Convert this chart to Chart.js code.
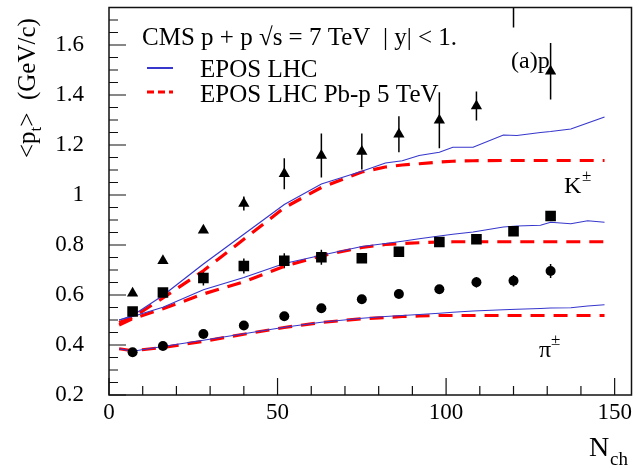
<!DOCTYPE html>
<html>
<head>
<meta charset="utf-8">
<script src="https://cdn.jsdelivr.net/npm/chart.js@4.4.1/dist/chart.umd.min.js"></script>
<style>
  html, body { margin: 0; padding: 0; background: #fff; }
</style>
</head>
<body>
<canvas id="ptChart" width="639" height="468"></canvas>
<script>
// measured points (CMS pp 7 TeV)
const nch = [7, 16, 28, 40, 52, 63, 75, 86, 98, 109, 120, 131];
const protonPt  = [0.607, 0.737, 0.859, 0.966, 1.085, 1.158, 1.174, 1.243, 1.299, 1.356, 1.78, 1.495];
const protonErr = [0.005, 0.008, 0.01, 0.028, 0.062, 0.088, 0.072, 0.072, 0.112, 0.058, 0.11, 0.113];
const kaonPt  = [0.534, 0.610, 0.668, 0.716, 0.737, 0.751, 0.747, 0.773, 0.812, 0.823, 0.855, 0.916];
const kaonErr = [0.005, 0.005, 0.03, 0.03, 0.03, 0.03, 0.005, 0.005, 0.005, 0.005, 0.005, 0.005];
const pionPt  = [0.371, 0.396, 0.444, 0.478, 0.515, 0.547, 0.583, 0.604, 0.623, 0.651, 0.657, 0.696];
const pionErr = [0.004, 0.004, 0.005, 0.005, 0.005, 0.005, 0.005, 0.005, 0.008, 0.021, 0.023, 0.028];

// EPOS curves
const modelN = [3, 7, 16, 28, 40, 52, 63, 75, 82, 87, 92, 98, 102, 108, 117, 121, 128, 131, 137, 142, 147];
const eposProton = [0.50, 0.518, 0.598, 0.724, 0.843, 0.962, 1.044, 1.095, 1.128, 1.137, 1.158, 1.171, 1.191, 1.191, 1.240, 1.238, 1.250, 1.254, 1.264, 1.288, 1.312];
const eposKaon   = [0.50, 0.514, 0.551, 0.621, 0.670, 0.726, 0.759, 0.794, 0.806, 0.815, 0.825, 0.836, 0.843, 0.852, 0.872, 0.876, 0.879, 0.891, 0.885, 0.897, 0.891];
const eposPion   = [0.385, 0.375, 0.394, 0.419, 0.445, 0.471, 0.491, 0.507, 0.514, 0.518, 0.522, 0.527, 0.531, 0.536, 0.541, 0.543, 0.546, 0.548, 0.549, 0.556, 0.561];
const pbProton = [0.49, 0.51, 0.588, 0.697, 0.823, 0.949, 1.03, 1.092, 1.112, 1.12, 1.125, 1.132, 1.135, 1.137, 1.138, 1.138, 1.138, 1.138, 1.138, 1.138, 1.138];
const pbKaon   = [0.48, 0.505, 0.545, 0.604, 0.653, 0.715, 0.757, 0.790, 0.802, 0.806, 0.809, 0.812, 0.813, 0.813, 0.813, 0.813, 0.813, 0.813, 0.813, 0.813, 0.813];
const pbPion   = [0.385, 0.377, 0.39, 0.415, 0.443, 0.47, 0.49, 0.505, 0.51, 0.514, 0.516, 0.518, 0.518, 0.518, 0.518, 0.518, 0.518, 0.518, 0.518, 0.518, 0.518];

const serif = "'Liberation Serif', 'DejaVu Serif', serif";
const blue = 'rgb(55,55,205)';
const red = 'rgb(255,0,0)';

function pts(xs, ys) {
  return xs.map((x, i) => ({ x: x, y: ys[i] }));
}

function model(data, dashed) {
  return {
    data: pts(modelN, data),
    borderColor: dashed ? red : blue,
    borderWidth: dashed ? 3.2 : 1.2,
    borderDash: dashed ? [14, 9] : [],
    pointRadius: 0,
    tension: 0,
    fill: false,
    order: 2
  };
}

function marker(data, errs, style, radius) {
  return {
    data: pts(nch, data),
    errs: errs,
    showLine: false,
    pointStyle: style,
    pointRadius: radius,
    pointBackgroundColor: '#000',
    pointBorderColor: '#000',
    pointBorderWidth: 0,
    clip: 0,
    order: 1
  };
}

// error bars, frame, inner ticks and the texts
const decorations = {
  id: 'decorations',
  beforeDatasetsDraw(chart) {
    const ctx = chart.ctx;
    const a = chart.chartArea;
    const xs = chart.scales.x, ys = chart.scales.y;
    ctx.save();
    ctx.beginPath();
    ctx.rect(a.left, a.top, a.right - a.left, a.bottom - a.top);
    ctx.clip();
    ctx.strokeStyle = '#000';
    ctx.lineWidth = 1.5;
    chart.data.datasets.forEach(ds => {
      if (!ds.errs) return;
      ds.data.forEach((p, i) => {
        const px = xs.getPixelForValue(p.x);
        ctx.beginPath();
        ctx.moveTo(px, ys.getPixelForValue(p.y - ds.errs[i]));
        ctx.lineTo(px, ys.getPixelForValue(p.y + ds.errs[i]));
        ctx.stroke();
      });
    });
    ctx.restore();
  },
  afterDraw(chart) {
    const ctx = chart.ctx;
    const a = chart.chartArea;
    const xs = chart.scales.x, ys = chart.scales.y;
    ctx.save();
    ctx.strokeStyle = '#111';
    ctx.lineWidth = 1.5;
    ctx.strokeRect(a.left, a.top, a.right - a.left, a.bottom - a.top);

    ctx.lineWidth = 1.2;
    ctx.beginPath();
    for (let v = 0; v <= 155; v += 10) {
      const px = xs.getPixelForValue(v);
      const len = v % 50 === 0 ? 17 : 9;
      ctx.moveTo(px, a.bottom);
      ctx.lineTo(px, a.bottom - len);
    }
    for (let k = 4; k <= 35; k++) {
      const v = k * 0.05;
      const py = ys.getPixelForValue(v);
      const len = k % 4 === 0 ? 17 : 9;
      ctx.moveTo(a.left, py);
      ctx.lineTo(a.left + len, py);
    }
    ctx.stroke();

    ctx.fillStyle = '#000';
    ctx.textBaseline = 'alphabetic';
    ctx.textAlign = 'left';

    // header
    ctx.font = '25px ' + serif;
    ctx.fillText('CMS p + p \u221As = 7 TeV  | y| < 1.', 142, 45);
    ctx.fillText('EPOS LHC', 200, 77);
    ctx.fillText('EPOS LHC Pb-p 5 TeV', 200, 102);

    // legend samples
    ctx.strokeStyle = blue;
    ctx.lineWidth = 2;
    ctx.beginPath();
    ctx.moveTo(147, 68);
    ctx.lineTo(173, 68);
    ctx.stroke();
    ctx.strokeStyle = red;
    ctx.lineWidth = 3;
    ctx.setLineDash([7, 4]);
    ctx.beginPath();
    ctx.moveTo(147, 92);
    ctx.lineTo(173, 92);
    ctx.stroke();
    ctx.setLineDash([]);

    // species labels
    ctx.font = '24px ' + serif;
    ctx.fillText('(a)p', 511, 68);
    ctx.fillText('K', 564, 193);
    ctx.fillText('\u03C0', 539, 357);
    ctx.font = '17px ' + serif;
    ctx.fillText('\u00B1', 582, 181);
    ctx.fillText('\u00B1', 551, 345);

    // x title
    ctx.font = '28px ' + serif;
    ctx.fillText('N', 589, 456);
    ctx.font = '19px ' + serif;
    ctx.fillText('ch', 610, 465);

    // y title, rotated
    ctx.translate(35, 158);
    ctx.rotate(-Math.PI / 2);
    ctx.font = '25px ' + serif;
    let x = 0;
    ctx.fillText('<p', x, 0);
    x += ctx.measureText('<p').width;
    ctx.font = '17px ' + serif;
    ctx.fillText('t', x, 6);
    x += ctx.measureText('t').width;
    ctx.font = '25px ' + serif;
    ctx.fillText('>  (GeV/c)', x, 0);
    ctx.restore();
  }
};

const ctx = document.getElementById('ptChart').getContext('2d');
const ptChart = new Chart(ctx, {
  type: 'line',
  data: {
    datasets: [
      marker(protonPt, protonErr, 'triangle', 6.5),
      marker(kaonPt, kaonErr, 'rect', 7.5),
      marker(pionPt, pionErr, 'circle', 5),
      model(eposProton, false),
      model(eposKaon, false),
      model(eposPion, false),
      model(pbProton, true),
      model(pbKaon, true),
      model(pbPion, true)
    ]
  },
  options: {
    responsive: false,
    animation: false,
    devicePixelRatio: 1,
    layout: { padding: { top: 6, right: 2, left: 0, bottom: 0 } },
    plugins: {
      legend: { display: false },
      tooltip: { enabled: false }
    },
    scales: {
      x: {
        type: 'linear',
        min: 0,
        max: 155,
        grid: { display: false, drawTicks: false },
        border: { display: false },
        ticks: {
          stepSize: 50,
          includeBounds: false,
          maxRotation: 0,
          color: '#000',
          padding: 4,
          font: { family: serif, size: 23 }
        },
        afterFit: s => { s.height = 73; s.paddingLeft = 0; s.paddingRight = 0; }
      },
      y: {
        min: 0.2,
        max: 1.75,
        grid: { display: false, drawTicks: false },
        border: { display: false },
        ticks: {
          stepSize: 0.2,
          includeBounds: false,
          color: '#000',
          padding: 25,
          font: { family: serif, size: 23 },
          callback: v => String(Number(v.toFixed(2)))
        },
        afterFit: s => { s.width = 109; s.paddingTop = 0; s.paddingBottom = 0; }
      }
    }
  },
  plugins: [decorations]
});
</script>
</body>
</html>
